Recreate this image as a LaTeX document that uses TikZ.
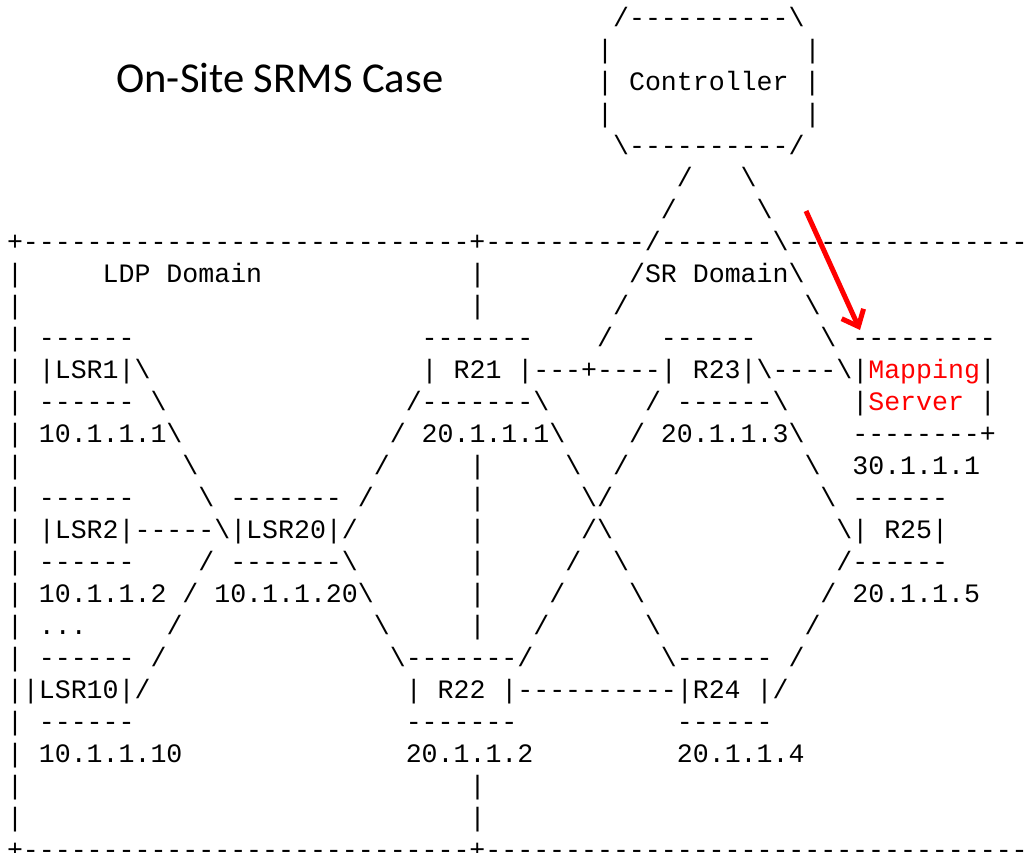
\documentclass[tikz,border=0pt]{standalone}
\usepackage{fontspec}
\setmonofont{Liberation Mono}
\newfontfamily\titlefont{Carlito}
\usetikzlibrary{arrows.meta}

% one text row of the network sketch, rows are 32 units apart
\newcount\dashcnt
\newcommand\skipcols[1]{\hskip#1\fontdimen2\font\relax}
\newcommand\dashcols[1]{\dashcnt=#1\relax\loop\ifnum\dashcnt>0 -\advance\dashcnt by -1\repeat}
\newcommand\bs{\textbackslash}
\newcommand\AsciiRow[2]{%
    \node[ascii] (row#1) at (7,{26.5+32*#1}) {#2};
}

\begin{document}
\begin{tikzpicture}[x=0.5pt,y=-0.5pt,
    ascii/.style={font=\ttfamily\fontsize{13.29pt}{16pt}\selectfont,
        anchor=base west, inner sep=0pt, outer sep=0pt},
    heading/.style={font=\titlefont\fontsize{21.3pt}{25pt}\selectfont,
        anchor=base west, inner sep=0pt},
    pointer/.style={draw=red, line width=2.5pt,
        -{Straight Barb[length=7pt,width=12pt]}}]
    \useasboundingbox (0,0) rectangle (1033,852);

    \node[heading] (title) at (116,92.3) {On-Site SRMS Case};

    % controller
    \AsciiRow{0}{\skipcols{38}/\dashcols{10}\bs}
    \AsciiRow{1}{\skipcols{37}|\skipcols{12}|}
    \AsciiRow{2}{\skipcols{37}| Controller |}
    \AsciiRow{3}{\skipcols{37}|\skipcols{12}|}
    \AsciiRow{4}{\skipcols{38}\bs\dashcols{10}/}
    \AsciiRow{5}{\skipcols{42}/\skipcols{3}\bs}
    \AsciiRow{6}{\skipcols{41}/\skipcols{5}\bs}
    % domains
    \AsciiRow{7}{+\dashcols{28}+\dashcols{10}/-------\bs\dashcols{15}}
    \AsciiRow{8}{|\skipcols{5}LDP Domain\skipcols{13}|\skipcols{9}/SR Domain\bs}
    \AsciiRow{9}{|\skipcols{28}|\skipcols{8}/\skipcols{11}\bs}
    \AsciiRow{10}{| ------\skipcols{18}-------\skipcols{4}/\skipcols{3}------\skipcols{4}\bs{} \dashcols{9}}
    \AsciiRow{11}{| |LSR1|\bs\skipcols{17}| R21 |---+----| R23|\bs----\bs|\textcolor{red}{Mapping}|}
    \AsciiRow{12}{| ------ \bs\skipcols{15}/-------\bs\skipcols{6}/ ------\bs\skipcols{4}|\textcolor{red}{Server} |}
    \AsciiRow{13}{| 10.1.1.1\bs\skipcols{13}/ 20.1.1.1\bs\skipcols{4}/ 20.1.1.3\bs\skipcols{3}\dashcols{8}+}
    \AsciiRow{14}{|\skipcols{10}\bs\skipcols{11}/\skipcols{5}|\skipcols{5}\bs\skipcols{2}/\skipcols{11}\bs\skipcols{2}30.1.1.1}
    \AsciiRow{15}{| ------\skipcols{4}\bs{} ------- /\skipcols{6}|\skipcols{6}\bs/\skipcols{13}\bs{} ------}
    \AsciiRow{16}{| |LSR2|-----\bs|LSR20|/\skipcols{7}|\skipcols{6}/\bs\skipcols{14}\bs| R25|}
    \AsciiRow{17}{| ------\skipcols{4}/ -------\bs\skipcols{7}|\skipcols{5}/\skipcols{2}\bs\skipcols{13}/------}
    \AsciiRow{18}{| 10.1.1.2 / 10.1.1.20\bs\skipcols{6}|\skipcols{4}/\skipcols{4}\bs\skipcols{11}/ 20.1.1.5}
    \AsciiRow{19}{| ...\skipcols{5}/\skipcols{12}\bs\skipcols{5}|\skipcols{3}/\skipcols{6}\bs\skipcols{9}/}
    \AsciiRow{20}{| ------ /\skipcols{14}\bs-------/\skipcols{8}\bs------ /}
    \AsciiRow{21}{||LSR10|/\skipcols{16}| R22 |\dashcols{10}|R24 |/}
    \AsciiRow{22}{| ------\skipcols{17}-------\skipcols{10}------}
    \AsciiRow{23}{| 10.1.1.10\skipcols{14}20.1.1.2\skipcols{9}20.1.1.4}
    \AsciiRow{24}{|\skipcols{28}|}
    \AsciiRow{25}{|\skipcols{28}|}
    \AsciiRow{26}{+\dashcols{28}+\dashcols{34}}

    % pointer to the mapping server
    \coordinate (ptrstart) at (806,211);
    \coordinate (ptrend) at (860,330);
    \draw[pointer] (ptrstart) -- (ptrend);
\end{tikzpicture}
\end{document}
